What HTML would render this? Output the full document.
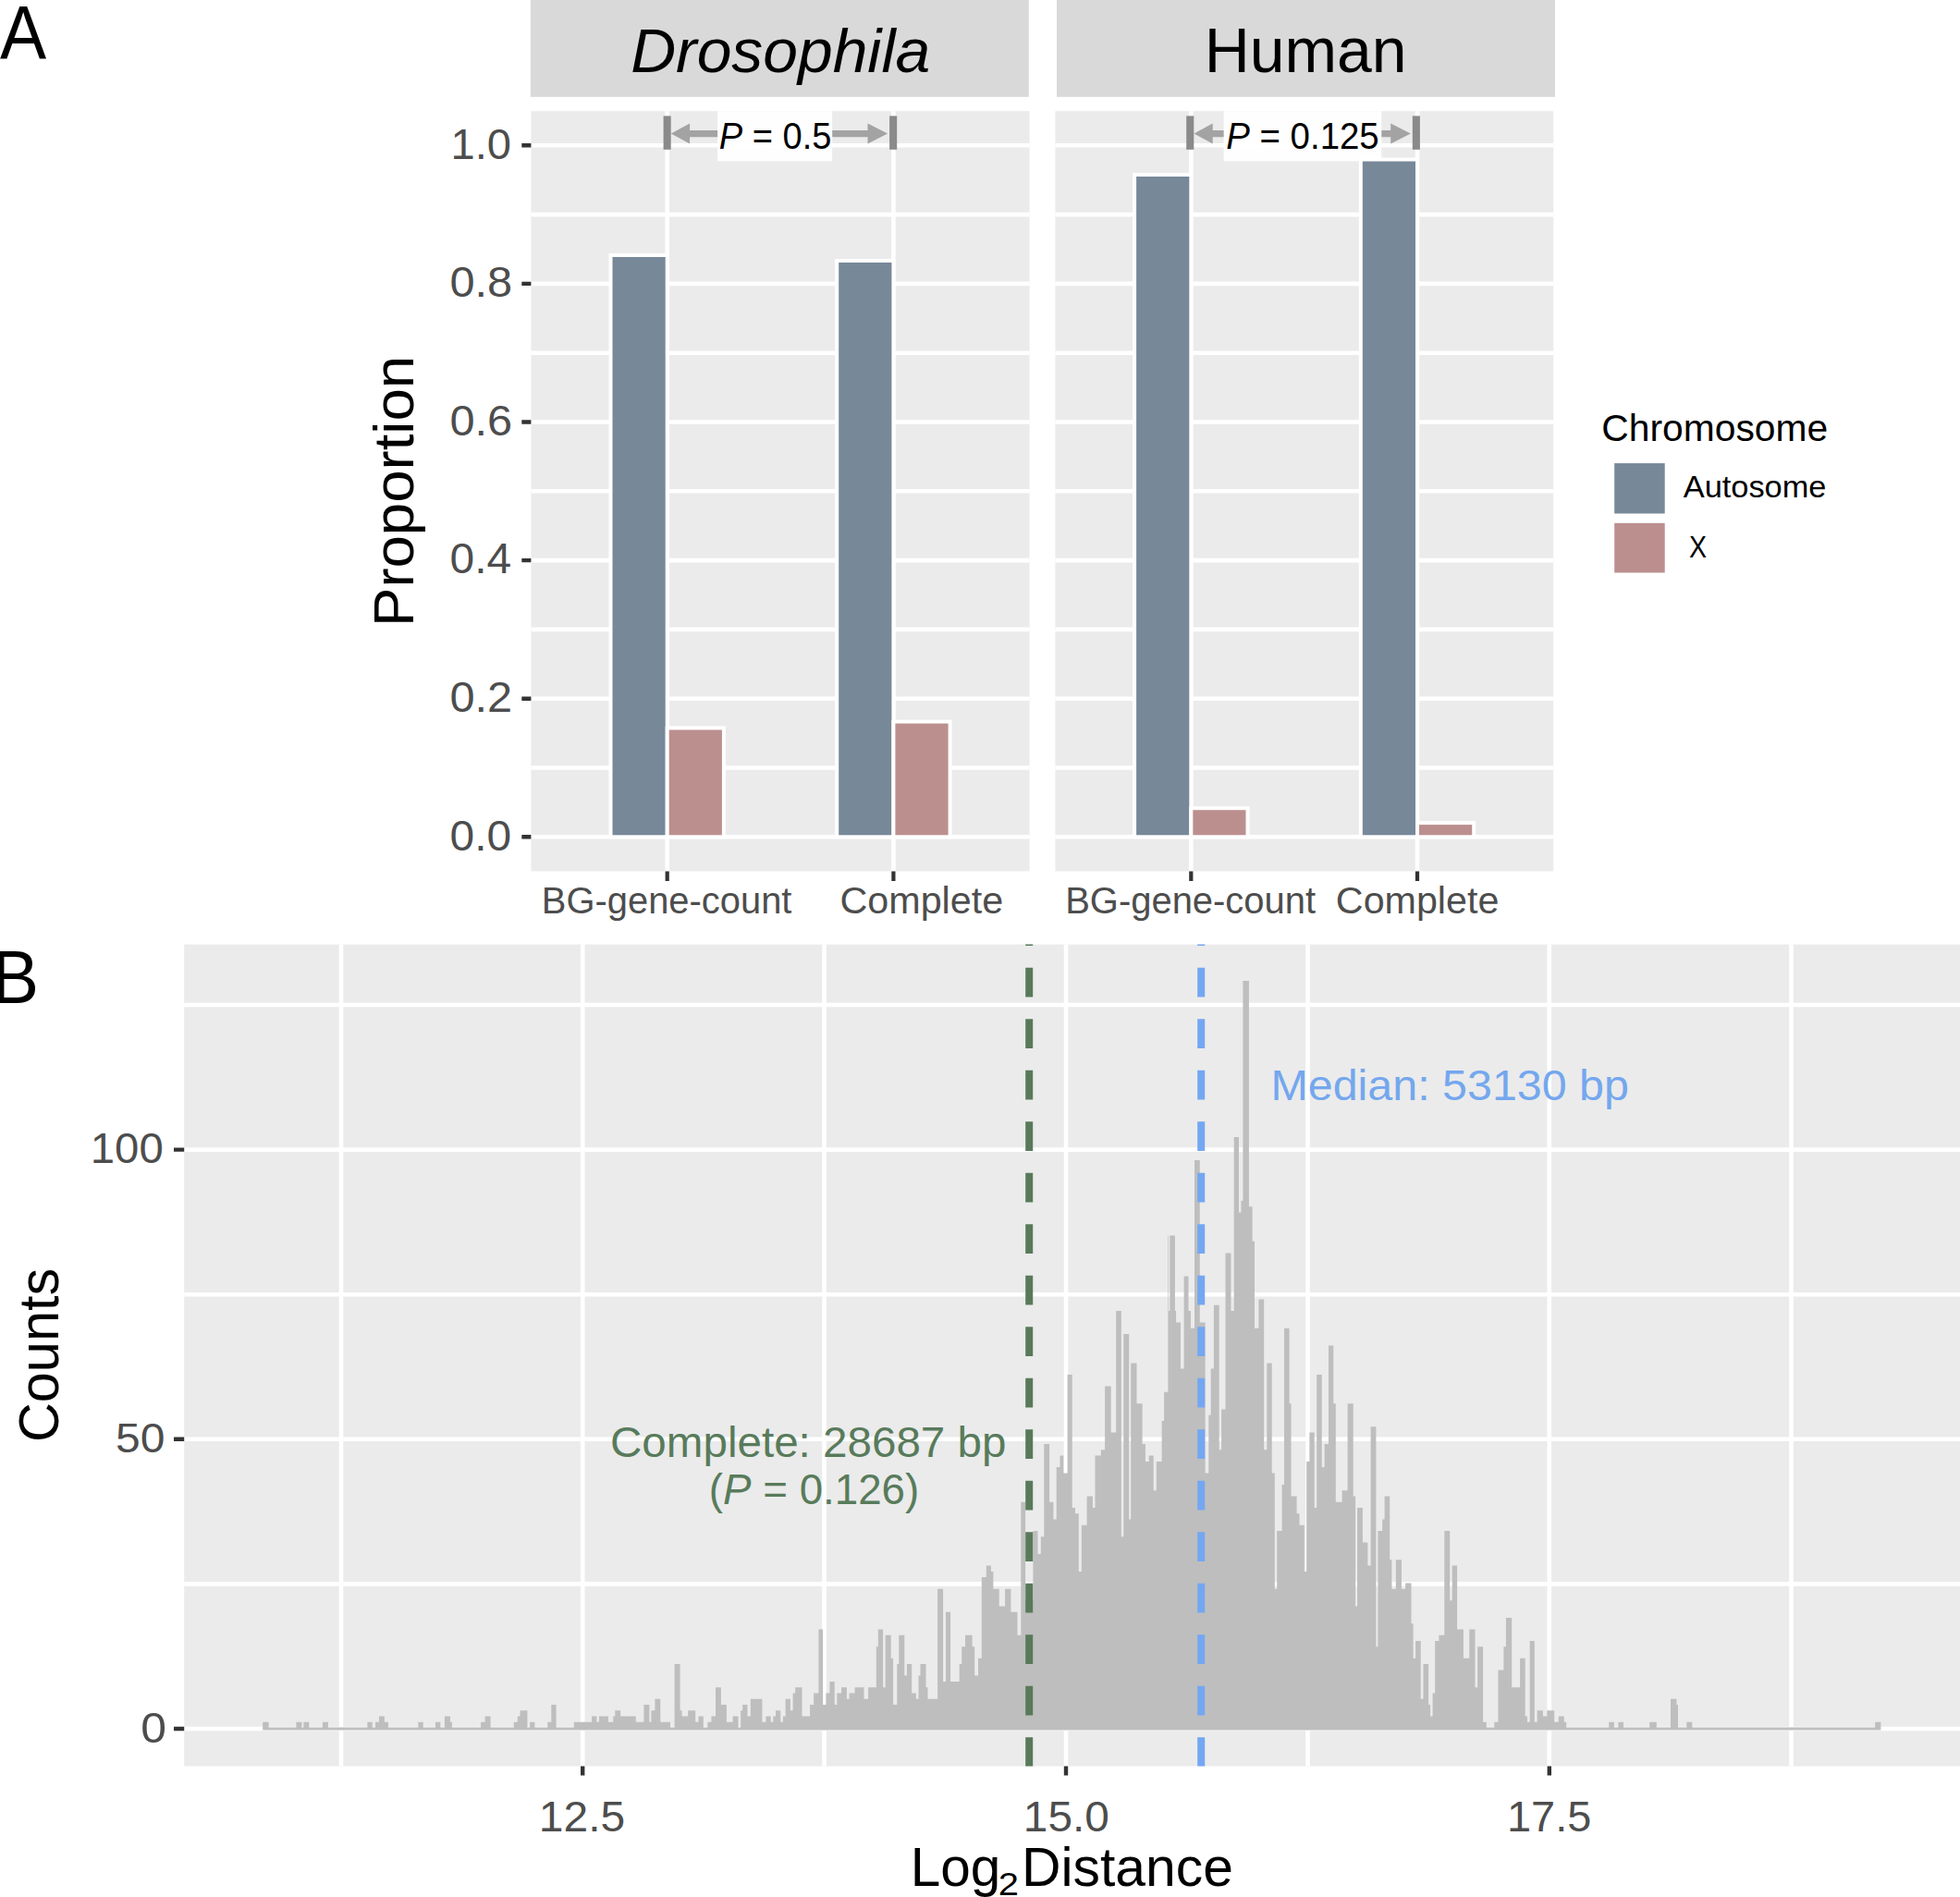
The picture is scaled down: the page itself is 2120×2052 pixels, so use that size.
<!DOCTYPE html><html><head><meta charset="utf-8"><title>Figure</title><style>html,body{margin:0;padding:0;background:#fff}svg{display:block}text{font-family:"Liberation Sans", sans-serif;white-space:pre}</style></head><body>
<svg width="2120" height="2052" viewBox="0 0 2120 2052">
<rect width="2120" height="2052" fill="#fff"/>
<rect x="573.8" y="0" width="539.0" height="104.8" fill="#d9d9d9"/>
<rect x="574.4" y="120.2" width="539.2" height="822.2" fill="#ebebeb"/>
<path d="M574.4,905.3H1113.6M574.4,830.5H1113.6M574.4,755.7H1113.6M574.4,680.9H1113.6M574.4,606.1H1113.6M574.4,531.3H1113.6M574.4,456.5H1113.6M574.4,381.7H1113.6M574.4,306.9H1113.6M574.4,232.1H1113.6M574.4,157.3H1113.6M721.7,120.2V942.4M966.4,120.2V942.4" stroke="#fff" stroke-width="4.6" fill="none"/>
<path d="M721.7,942.4V953M966.4,942.4V953" stroke="#333" stroke-width="4.2" fill="none"/>
<rect x="1143" y="0" width="539.0" height="104.8" fill="#d9d9d9"/>
<rect x="1141.4" y="120.2" width="538.8" height="822.2" fill="#ebebeb"/>
<path d="M1141.4,905.3H1680.2M1141.4,830.5H1680.2M1141.4,755.7H1680.2M1141.4,680.9H1680.2M1141.4,606.1H1680.2M1141.4,531.3H1680.2M1141.4,456.5H1680.2M1141.4,381.7H1680.2M1141.4,306.9H1680.2M1141.4,232.1H1680.2M1141.4,157.3H1680.2M1288.3,120.2V942.4M1533.0,120.2V942.4" stroke="#fff" stroke-width="4.6" fill="none"/>
<path d="M1288.3,942.4V953M1533.0,942.4V953" stroke="#333" stroke-width="4.2" fill="none"/>
<path d="M564.3,905.3H574.4M564.3,755.7H574.4M564.3,606.1H574.4M564.3,456.5H574.4M564.3,306.9H574.4M564.3,157.3H574.4" stroke="#333" stroke-width="4.4" fill="none"/>
<rect x="776.1" y="120.2" width="124.1" height="54.2" fill="#fff" opacity="0.93"/>
<rect x="1323.6" y="120.2" width="170.7" height="54.2" fill="#fff" opacity="0.93"/>
<rect x="660.5" y="276.0" width="61.2" height="629.3" fill="#778899" stroke="#fff" stroke-width="4"/>
<rect x="721.7" y="787.5" width="61.2" height="117.8" fill="#bc8f8f" stroke="#fff" stroke-width="4"/>
<rect x="905.2" y="282.0" width="61.2" height="623.3" fill="#778899" stroke="#fff" stroke-width="4"/>
<rect x="966.4" y="780.6" width="61.2" height="124.7" fill="#bc8f8f" stroke="#fff" stroke-width="4"/>
<rect x="1227.1" y="189.0" width="61.2" height="716.3" fill="#778899" stroke="#fff" stroke-width="4"/>
<rect x="1288.3" y="874.2" width="61.2" height="31.1" fill="#bc8f8f" stroke="#fff" stroke-width="4"/>
<rect x="1471.8" y="172.5" width="61.2" height="732.8" fill="#778899" stroke="#fff" stroke-width="4"/>
<rect x="1533.0" y="890.1" width="61.2" height="15.2" fill="#bc8f8f" stroke="#fff" stroke-width="4"/>
<rect x="717.6" y="125.4" width="8.1" height="36.4" fill="#8a8a8a"/>
<rect x="962.1" y="125.4" width="8.1" height="36.4" fill="#8a8a8a"/>
<path d="M725.8000000000001,144.6L746.1,133.6V141.0H776.1V148.2H746.1V155.6Z" fill="#a3a3a3"/>
<path d="M960.1,144.6L938.5,133.6V141.0H900.2V148.2H938.5V155.6Z" fill="#a3a3a3"/>
<rect x="1283.2" y="125.4" width="8.1" height="36.4" fill="#8a8a8a"/>
<rect x="1527.8" y="125.4" width="8.1" height="36.4" fill="#8a8a8a"/>
<path d="M1291.4,144.6L1311.7,133.6V141.0H1323.6V148.2H1311.7V155.6Z" fill="#a3a3a3"/>
<path d="M1525.8,144.6L1504.2,133.6V141.0H1494.3V148.2H1504.2V155.6Z" fill="#a3a3a3"/>
<rect x="1746.2" y="501.1" width="54.5" height="54.4" fill="#778899"/>
<rect x="1746.2" y="565.8" width="54.5" height="53.7" fill="#bc8f8f"/>
<rect x="199.2" y="1021.6" width="1920.8" height="888.9" fill="#ebebeb"/>
<path d="M199.2,1870.0H2120M199.2,1713.4H2120M199.2,1556.8H2120M199.2,1400.2H2120M199.2,1243.6H2120M199.2,1087.0H2120M369,1021.6V1910.5M630.2,1021.6V1910.5M891.5,1021.6V1910.5M1153,1021.6V1910.5M1414.5,1021.6V1910.5M1675.8,1021.6V1910.5M1937.5,1021.6V1910.5" stroke="#fff" stroke-width="4.6" fill="none"/>
<path d="M284.2,1871.5L284.2,1862.7L290.6,1862.7L290.6,1868.5L320.4,1868.5L320.4,1862.7L326.4,1862.7L326.4,1868.5L328.4,1868.5L328.4,1862.7L334.3,1862.7L334.3,1868.5L348.9,1868.5L348.9,1862.7L354.9,1862.7L354.9,1868.5L397.4,1868.5L397.4,1862.7L402.7,1862.7L402.7,1868.5L406.0,1868.5L406.0,1862.7L410.0,1862.7L410.0,1856.5L415.9,1856.5L415.9,1862.7L419.9,1862.7L419.9,1868.5L452.4,1868.5L452.4,1862.7L457.7,1862.7L457.7,1868.5L471.0,1868.5L471.0,1862.7L476.3,1862.7L476.3,1868.5L480.9,1868.5L480.9,1856.5L486.9,1856.5L486.9,1862.7L488.9,1862.7L488.9,1868.5L520.1,1868.5L520.1,1862.7L522.0,1862.7L522.0,1862.7L524.6,1862.7L524.6,1856.5L530.6,1856.5L530.6,1868.5L555.8,1868.5L555.8,1862.7L559.8,1862.7L559.8,1856.5L562.5,1856.5L562.5,1850.2L570.4,1850.2L570.4,1868.5L573.1,1868.5L573.1,1862.7L578.4,1862.7L578.4,1868.5L592.3,1868.5L592.3,1862.7L596.3,1862.7L596.3,1843.9L601.6,1843.9L601.6,1868.5L620.8,1868.5L620.8,1862.7L640.1,1862.7L640.1,1856.5L645.4,1856.5L645.4,1862.7L648.0,1862.7L648.0,1856.5L658.0,1856.5L658.0,1862.7L663.3,1862.7L663.3,1856.5L665.3,1856.5L665.3,1850.2L671.2,1850.2L671.2,1856.5L687.8,1856.5L687.8,1862.7L696.4,1862.7L696.4,1843.9L702.4,1843.9L702.4,1862.7L704.4,1862.7L704.4,1850.2L708.4,1850.2L708.4,1837.7L714.3,1837.7L714.3,1862.7L725.0,1862.7L725.0,1868.5L729.6,1868.5L729.6,1800.1L735.6,1800.1L735.6,1850.2L737.6,1850.2L737.6,1856.5L744.2,1856.5L744.2,1850.2L752.2,1850.2L752.2,1862.7L755.5,1862.7L755.5,1856.5L760.8,1856.5L760.8,1868.5L765.4,1868.5L765.4,1862.7L769.4,1862.7L769.4,1856.5L772.0,1856.5L772.0,1856.5L774.0,1856.5L774.0,1825.2L779.9,1825.2L779.9,1843.9L785.9,1843.9L785.9,1862.7L792.6,1862.7L792.6,1856.5L798.5,1856.5L798.5,1868.5L801.2,1868.5L801.2,1850.2L803.2,1850.2L803.2,1843.9L808.5,1843.9L808.5,1856.5L811.8,1856.5L811.8,1837.7L824.4,1837.7L824.4,1862.7L828.4,1862.7L828.4,1856.5L833.7,1856.5L833.7,1862.7L836.3,1862.7L836.3,1856.5L839.0,1856.5L839.0,1850.2L844.3,1850.2L844.3,1862.7L846.9,1862.7L846.9,1856.5L849.6,1856.5L849.6,1837.7L854.9,1837.7L854.9,1850.2L857.6,1850.2L857.6,1831.4L860.2,1831.4L860.2,1825.2L867.5,1825.2L867.5,1856.5L876.1,1856.5L876.1,1843.9L880.1,1843.9L880.1,1831.4L885.4,1831.4L885.4,1762.5L890.1,1762.5L890.1,1843.9L893.4,1843.9L893.4,1831.4L897.4,1831.4L897.4,1818.9L902.7,1818.9L902.7,1843.9L905.3,1843.9L905.3,1831.4L910.0,1831.4L910.0,1825.2L915.9,1825.2L915.9,1837.7L918.6,1837.7L918.6,1831.4L924.6,1831.4L924.6,1825.2L934.5,1825.2L934.5,1837.7L939.1,1837.7L939.1,1825.2L947.8,1825.2L947.8,1781.3L949.8,1781.3L949.8,1762.5L955.1,1762.5L955.1,1825.2L957.7,1825.2L957.7,1768.8L963.7,1768.8L963.7,1793.8L966.1,1793.8L966.1,1843.9L970.3,1843.9L970.3,1800.1L972.3,1800.1L972.3,1768.8L978.3,1768.8L978.3,1812.6L980.9,1812.6L980.9,1800.1L986.2,1800.1L986.2,1831.4L990.9,1831.4L990.9,1837.7L993.5,1837.7L993.5,1812.6L995.5,1812.6L995.5,1800.1L1001.5,1800.1L1001.5,1825.2L1003.5,1825.2L1003.5,1837.7L1014.1,1837.7L1014.1,1718.7L1020.1,1718.7L1020.1,1818.9L1022.0,1818.9L1022.0,1818.9L1023.0,1818.9L1023.0,1743.7L1028.1,1743.7L1028.1,1818.9L1037.7,1818.9L1037.7,1800.1L1040.2,1800.1L1040.2,1781.3L1044.0,1781.3L1044.0,1768.8L1051.6,1768.8L1051.6,1781.3L1054.2,1781.3L1054.2,1812.6L1058.0,1812.6L1058.0,1793.8L1061.8,1793.8L1061.8,1706.1L1066.8,1706.1L1066.8,1693.6L1071.9,1693.6L1071.9,1699.9L1074.4,1699.9L1074.4,1718.7L1080.7,1718.7L1080.7,1737.5L1087.1,1737.5L1087.1,1718.7L1093.4,1718.7L1093.4,1743.7L1100.5,1743.7L1100.5,1768.8L1104.3,1768.8L1104.3,1624.7L1109.1,1624.7L1109.1,1731.2L1117.4,1731.2L1117.4,1656.0L1122.5,1656.0L1122.5,1681.1L1125.8,1681.1L1125.8,1662.3L1129.3,1662.3L1129.3,1562.1L1135.1,1562.1L1135.1,1624.7L1139.4,1624.7L1139.4,1643.5L1142.7,1643.5L1142.7,1587.1L1146.5,1587.1L1146.5,1574.6L1150.3,1574.6L1150.3,1593.4L1154.6,1593.4L1154.6,1486.9L1159.7,1486.9L1159.7,1631.0L1163.0,1631.0L1163.0,1637.2L1166.8,1637.2L1166.8,1699.9L1169.8,1699.9L1169.8,1649.8L1175.6,1649.8L1175.6,1618.4L1181.9,1618.4L1181.9,1631.0L1184.5,1631.0L1184.5,1574.6L1190.8,1574.6L1190.8,1568.3L1195.1,1568.3L1195.1,1499.4L1201.7,1499.4L1201.7,1549.5L1207.2,1549.5L1207.2,1418.0L1212.8,1418.0L1212.8,1662.3L1215.3,1662.3L1215.3,1443.0L1221.2,1443.0L1221.2,1643.5L1223.2,1643.5L1223.2,1474.4L1229.5,1474.4L1229.5,1518.2L1235.6,1518.2L1235.6,1562.1L1238.9,1562.1L1238.9,1580.9L1242.7,1580.9L1242.7,1574.6L1247.7,1574.6L1247.7,1612.2L1250.8,1612.2L1250.8,1580.9L1256.6,1580.9L1256.6,1537.0L1259.1,1537.0L1259.1,1505.7L1263.4,1505.7L1263.4,1336.6L1264.0,1336.6L1264.0,1418.0L1265.3,1418.0L1265.3,1336.6L1270.9,1336.6L1270.9,1418.0L1272.1,1418.0L1272.1,1430.5L1277.0,1430.5L1277.0,1480.6L1280.6,1480.6L1280.6,1380.4L1285.5,1380.4L1285.5,1418.0L1287.9,1418.0L1287.9,1436.8L1292.0,1436.8L1292.0,1255.1L1297.8,1255.1L1297.8,1430.5L1303.6,1430.5L1303.6,1593.4L1307.3,1593.4L1307.3,1530.7L1309.7,1530.7L1309.7,1480.6L1312.9,1480.6L1312.9,1411.7L1318.7,1411.7L1318.7,1568.3L1321.1,1568.3L1321.1,1524.5L1325.5,1524.5L1325.5,1355.4L1331.5,1355.4L1331.5,1418.0L1334.7,1418.0L1334.7,1230.1L1340.0,1230.1L1340.0,1311.5L1342.4,1311.5L1342.4,1299.0L1344.4,1299.0L1344.4,1060.9L1350.9,1060.9L1350.9,1305.2L1354.6,1305.2L1354.6,1342.8L1357.0,1342.8L1357.0,1436.8L1361.4,1436.8L1361.4,1405.5L1367.2,1405.5L1367.2,1568.3L1370.3,1568.3L1370.3,1474.4L1375.7,1474.4L1375.7,1593.4L1378.8,1593.4L1378.8,1718.7L1381.2,1718.7L1381.2,1656.0L1386.6,1656.0L1386.6,1605.9L1389.0,1605.9L1389.0,1436.8L1394.6,1436.8L1394.6,1518.2L1396.5,1518.2L1396.5,1618.4L1402.6,1618.4L1402.6,1637.2L1405.5,1637.2L1405.5,1649.8L1410.8,1649.8L1410.8,1699.9L1413.2,1699.9L1413.2,1580.9L1416.4,1580.9L1416.4,1549.5L1421.7,1549.5L1421.7,1631.0L1424.2,1631.0L1424.2,1486.9L1429.7,1486.9L1429.7,1587.1L1432.6,1587.1L1432.6,1562.1L1437.0,1562.1L1437.0,1455.6L1442.3,1455.6L1442.3,1518.2L1444.8,1518.2L1444.8,1624.7L1451.6,1624.7L1451.6,1612.2L1457.6,1612.2L1457.6,1518.2L1463.7,1518.2L1463.7,1618.4L1466.1,1618.4L1466.1,1737.5L1468.1,1737.5L1468.1,1631.0L1473.9,1631.0L1473.9,1668.6L1479.4,1668.6L1479.4,1693.6L1482.6,1693.6L1482.6,1543.3L1488.4,1543.3L1488.4,1781.3L1490.4,1781.3L1490.4,1656.0L1495.2,1656.0L1495.2,1643.5L1497.6,1643.5L1497.6,1618.4L1503.2,1618.4L1503.2,1687.3L1505.4,1687.3L1505.4,1718.7L1509.8,1718.7L1509.8,1687.3L1512.0,1687.3L1512.0,1687.3L1515.9,1687.3L1515.9,1718.7L1520.1,1718.7L1520.1,1712.4L1526.5,1712.4L1526.5,1756.2L1528.6,1756.2L1528.6,1793.8L1531.1,1793.8L1531.1,1775.0L1536.7,1775.0L1536.7,1837.7L1539.5,1837.7L1539.5,1800.1L1545.1,1800.1L1545.1,1843.9L1547.1,1843.9L1547.1,1856.5L1549.6,1856.5L1549.6,1831.4L1552.2,1831.4L1552.2,1775.0L1556.4,1775.0L1556.4,1768.8L1562.3,1768.8L1562.3,1656.0L1568.2,1656.0L1568.2,1731.2L1570.7,1731.2L1570.7,1693.6L1576.1,1693.6L1576.1,1762.5L1582.9,1762.5L1582.9,1793.8L1589.3,1793.8L1589.3,1762.5L1595.5,1762.5L1595.5,1825.2L1598.2,1825.2L1598.2,1781.3L1604.1,1781.3L1604.1,1862.7L1607.8,1862.7L1607.8,1868.5L1616.3,1868.5L1616.3,1862.7L1620.5,1862.7L1620.5,1806.4L1626.4,1806.4L1626.4,1781.3L1628.9,1781.3L1628.9,1750.0L1635.2,1750.0L1635.2,1825.2L1644.1,1825.2L1644.1,1793.8L1649.7,1793.8L1649.7,1856.5L1652.0,1856.5L1652.0,1862.7L1654.7,1862.7L1654.7,1775.0L1659.8,1775.0L1659.8,1862.7L1662.7,1862.7L1662.7,1850.2L1668.9,1850.2L1668.9,1856.5L1673.3,1856.5L1673.3,1850.2L1681.2,1850.2L1681.2,1862.7L1685.8,1862.7L1685.8,1856.5L1691.8,1856.5L1691.8,1862.7L1694.2,1862.7L1694.2,1868.5L1740.3,1868.5L1740.3,1862.7L1745.8,1862.7L1745.8,1868.5L1750.4,1868.5L1750.4,1862.7L1752.0,1862.7L1752.0,1862.7L1756.0,1862.7L1756.0,1868.5L1784.2,1868.5L1784.2,1862.7L1791.8,1862.7L1791.8,1868.5L1807.0,1868.5L1807.0,1837.7L1813.4,1837.7L1813.4,1843.9L1815.0,1843.9L1815.0,1868.5L1824.3,1868.5L1824.3,1862.7L1830.3,1862.7L1830.3,1868.5L2028.2,1868.5L2028.2,1862.7L2034.4,1862.7L2034.4,1868.5L2034.4,1868.5L2034.4,1871.5Z" fill="#bebebe"/>
<path d="M1113.2,1021.6V1022.9M1113.2,1046.8V1078.4M1113.2,1102.3V1133.9M1113.2,1157.8V1189.4M1113.2,1213.3V1244.9M1113.2,1268.8V1300.4M1113.2,1324.3V1355.9M1113.2,1379.8V1411.4M1113.2,1435.3V1466.9M1113.2,1490.8V1522.4M1113.2,1546.3V1577.9M1113.2,1601.8V1633.4M1113.2,1657.3V1688.9M1113.2,1712.8V1744.4M1113.2,1768.3V1799.9M1113.2,1823.8V1855.4M1113.2,1879.3V1910.5" stroke="#587a5a" stroke-width="8" fill="none"/>
<path d="M1299.2,1021.6V1022.9M1299.2,1046.8V1078.4M1299.2,1102.3V1133.9M1299.2,1157.8V1189.4M1299.2,1213.3V1244.9M1299.2,1268.8V1300.4M1299.2,1324.3V1355.9M1299.2,1379.8V1411.4M1299.2,1435.3V1466.9M1299.2,1490.8V1522.4M1299.2,1546.3V1577.9M1299.2,1601.8V1633.4M1299.2,1657.3V1688.9M1299.2,1712.8V1744.4M1299.2,1768.3V1799.9M1299.2,1823.8V1855.4M1299.2,1879.3V1910.5" stroke="#74a7f2" stroke-width="8" fill="none"/>
<path d="M188,1870.0H199.2M188,1556.8H199.2M188,1243.6H199.2M630.2,1910.5V1920.6M1153,1910.5V1920.6M1675.8,1910.5V1920.6" stroke="#333" stroke-width="4.4" fill="none"/>
<text transform="translate(0.08,63.30) scale(0.9151,1)" font-size="82.17" fill="#000">A</text>
<text transform="translate(-9.06,1084.90) scale(0.9372,1)" font-size="81.74" fill="#000">B</text>
<text transform="translate(682.15,78.10) scale(1.0257,1)" font-size="66.09" fill="#000" font-style="italic">Drosophila</text>
<text transform="translate(1302.64,78.40) scale(0.9929,1)" font-size="68.41" fill="#000">Human</text>
<text transform="translate(777.87,161.20) scale(0.9273,1)" font-size="41.01" fill="#000"><tspan font-style="italic">P</tspan> = 0.5</text>
<text transform="translate(1326.15,161.10) scale(0.9471,1)" font-size="40.58" fill="#000"><tspan font-style="italic">P</tspan> = 0.125</text>
<text transform="translate(487.59,171.60) scale(1.0356,1)" font-size="45.49" fill="#4d4d4d">1.0</text>
<text transform="translate(486.46,321.20) scale(1.0712,1)" font-size="45.49" fill="#4d4d4d">0.8</text>
<text transform="translate(486.46,470.80) scale(1.0712,1)" font-size="45.49" fill="#4d4d4d">0.6</text>
<text transform="translate(486.49,620.40) scale(1.0533,1)" font-size="45.49" fill="#4d4d4d">0.4</text>
<text transform="translate(486.46,770.00) scale(1.0712,1)" font-size="45.49" fill="#4d4d4d">0.2</text>
<text transform="translate(486.49,919.60) scale(1.0533,1)" font-size="45.49" fill="#4d4d4d">0.0</text>
<text transform="translate(447.20,677.97) rotate(-90) scale(1.0336,1)" font-size="61.45" fill="#000">Proportion</text>
<text transform="translate(585.82,988.30) scale(0.9944,1)" font-size="40.14" fill="#4d4d4d">BG-gene-count</text>
<text transform="translate(908.44,988.30) scale(1.0292,1)" font-size="40.14" fill="#4d4d4d">Complete</text>
<text transform="translate(1152.21,988.30) scale(0.9955,1)" font-size="40.14" fill="#4d4d4d">BG-gene-count</text>
<text transform="translate(1444.85,988.30) scale(1.0274,1)" font-size="40.14" fill="#4d4d4d">Complete</text>
<text transform="translate(1732.31,477.10) scale(0.9950,1)" font-size="41.01" fill="#000">Chromosome</text>
<text transform="translate(1820.80,537.60) scale(1.0351,1)" font-size="33.19" fill="#000">Autosome</text>
<text transform="translate(1826.92,603.30) scale(0.8750,1)" font-size="32.61" fill="#000">X</text>
<text transform="translate(97.81,1258.00) scale(1.0306,1)" font-size="45.92" fill="#4d4d4d">100</text>
<text transform="translate(124.96,1571.20) scale(1.0696,1)" font-size="44.93" fill="#4d4d4d">50</text>
<text transform="translate(152.15,1884.80) scale(1.0727,1)" font-size="46.48" fill="#4d4d4d">0</text>
<text transform="translate(62.60,1560.12) rotate(-90) scale(0.9745,1)" font-size="61.01" fill="#000">Counts</text>
<text transform="translate(582.75,1981.20) scale(1.0488,1)" font-size="45.77" fill="#4d4d4d">12.5</text>
<text transform="translate(1106.86,1981.20) scale(1.0452,1)" font-size="45.77" fill="#4d4d4d">15.0</text>
<text transform="translate(1629.92,1981.20) scale(1.0262,1)" font-size="45.77" fill="#4d4d4d">17.5</text>
<text transform="translate(984.67,2040.40) scale(0.9867,1)" font-size="59.28" fill="#000">Log</text>
<text transform="translate(1079.78,2050.00) scale(1.1125,1)" font-size="35.92" fill="#000">2</text>
<text transform="translate(1105.04,2040.40) scale(0.9928,1)" font-size="59.28" fill="#000">Distance</text>
<text transform="translate(1374.49,1190.40) scale(1.0536,1)" font-size="45.94" fill="#74a7ee">Median: 53130 bp</text>
<text transform="translate(659.97,1576.10) scale(1.0167,1)" font-size="46.81" fill="#587b5b">Complete: 28687 bp</text>
<text transform="translate(766.87,1627.00) scale(0.9767,1)" font-size="46.81" fill="#587b5b">(<tspan font-style="italic">P</tspan> = 0.126)</text>
</svg></body></html>
